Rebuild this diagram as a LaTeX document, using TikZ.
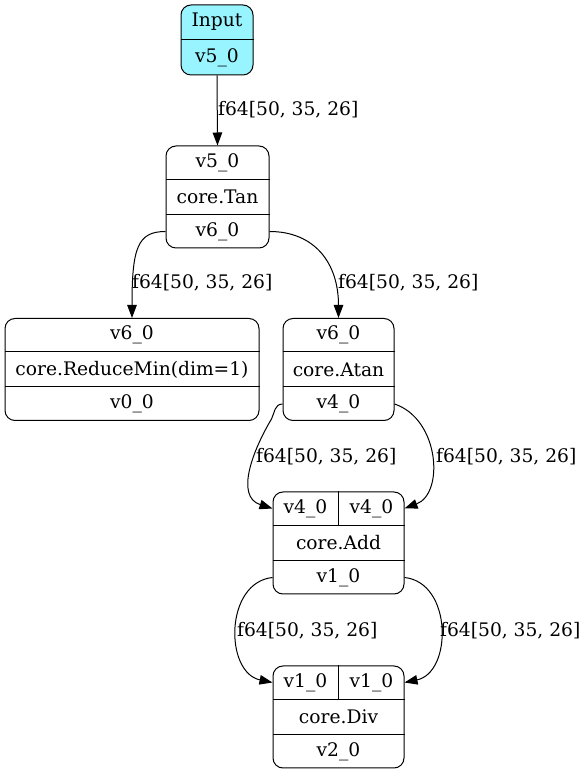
\documentclass[tikz,border=0pt]{standalone}
\usepackage{fontspec}
\setmainfont{DejaVu Serif}
\usepackage{tikz}
\usetikzlibrary{arrows.meta, positioning}
\definecolor{inputcyan}{HTML}{98F5FF}

\begin{document}
\begin{tikzpicture}[
        x=1pt, y=1pt,
        font=\fontsize{18.67}{22}\selectfont,
        record/.style={draw, line width=1pt, rounded corners=10pt, minimum height=102pt, inner sep=0pt},
        field/.style={inner sep=0pt},
        split/.style={line width=1pt},
        lbl/.style={anchor=west, inner sep=0pt},
        edge/.style={-{Triangle[length=13pt, width=9.5pt]}, line width=1pt}
    ]
    \useasboundingbox (0,0) rectangle (586,774);
%
    % Records
    \node[record, fill=inputcyan, minimum width=72pt, minimum height=70pt] (input) at (217,734) {};
    \node[record, minimum width=103pt] (tan) at (217.5,577) {};
    \node[record, minimum width=254pt] (rmin) at (132,404.5) {};
    \node[record, minimum width=111pt] (atan) at (338.5,404.5) {};
    \node[record, minimum width=131pt] (add) at (338.5,231) {};
    \node[record, minimum width=131pt] (div) at (338.5,57) {};
%
    % Fields
    \node[field] (input-op) at ([yshift=-17.5pt]input.north) {Input};
    \node[field] (input-out) at ([yshift=17.5pt]input.south) {v5\_0};
    \node[field] (tan-in) at ([yshift=-17pt]tan.north) {v5\_0};
    \node[field] (tan-op) at (tan.center) {core.Tan};
    \node[field] (tan-out) at ([yshift=17pt]tan.south) {v6\_0};
    \node[field] (rmin-in) at ([yshift=-17pt]rmin.north) {v6\_0};
    \node[field] (rmin-op) at (rmin.center) {core.ReduceMin(dim=1)};
    \node[field] (rmin-out) at ([yshift=17pt]rmin.south) {v0\_0};
    \node[field] (atan-in) at ([yshift=-17pt]atan.north) {v6\_0};
    \node[field] (atan-op) at (atan.center) {core.Atan};
    \node[field] (atan-out) at ([yshift=17pt]atan.south) {v4\_0};
    \node[field] (add-in1) at ([xshift=-33pt, yshift=-17pt]add.north) {v4\_0};
    \node[field] (add-in2) at ([xshift=33pt, yshift=-17pt]add.north) {v4\_0};
    \node[field] (add-op) at (add.center) {core.Add};
    \node[field] (add-out) at ([yshift=17pt]add.south) {v1\_0};
    \node[field] (div-in1) at ([xshift=-33pt, yshift=-17pt]div.north) {v1\_0};
    \node[field] (div-in2) at ([xshift=33pt, yshift=-17pt]div.north) {v1\_0};
    \node[field] (div-op) at (div.center) {core.Div};
    \node[field] (div-out) at ([yshift=17pt]div.south) {v2\_0};
%
    % Splits
    \draw[split] (input.west) -- (input.east);
    \draw[split] ([yshift=-34pt]tan.north west) -- ([yshift=-34pt]tan.north east);
    \draw[split] ([yshift=34pt]tan.south west) -- ([yshift=34pt]tan.south east);
    \draw[split] ([yshift=-34pt]rmin.north west) -- ([yshift=-34pt]rmin.north east);
    \draw[split] ([yshift=34pt]rmin.south west) -- ([yshift=34pt]rmin.south east);
    \draw[split] ([yshift=-34pt]atan.north west) -- ([yshift=-34pt]atan.north east);
    \draw[split] ([yshift=34pt]atan.south west) -- ([yshift=34pt]atan.south east);
    \draw[split] ([yshift=-34pt]add.north west) -- ([yshift=-34pt]add.north east);
    \draw[split] ([yshift=34pt]add.south west) -- ([yshift=34pt]add.south east);
    \draw[split] (add.north) -- ([yshift=-34pt]add.north);
    \draw[split] ([yshift=-34pt]div.north west) -- ([yshift=-34pt]div.north east);
    \draw[split] ([yshift=34pt]div.south west) -- ([yshift=34pt]div.south east);
    \draw[split] (div.north) -- ([yshift=-34pt]div.north);
%
    % Edges
    \draw[edge] (input.south) -- (tan.north);
    \draw[edge] (tan.west |- tan-out) .. controls +(-28,0) and +(0,70) .. (rmin.north);
    \draw[edge] (tan.east |- tan-out) .. controls +(45,0) and +(0,55) .. (atan.north);
    \draw[edge] (atan.west |- atan-out) .. controls +(-8,0) and +(3,6) .. ++(-11,-15)
        .. controls +(-18,-30) and +(-38,12) .. (add.west |- add-in1);
    \draw[edge] (atan.east |- atan-out) .. controls +(45,-15) and +(40,15) .. (add.east |- add-in2);
    \draw[edge] (add.west |- add-out) .. controls +(-48,-5) and +(-48,10) .. (div.west |- div-in1);
    \draw[edge] (add.east |- add-out) .. controls +(48,-5) and +(48,10) .. (div.east |- div-in2);
%
    % Labels
    \node[lbl] (lbl-in) at (218,664) {f64[50, 35, 26]};
    \node[lbl] (lbl-rmin) at (132,491) {f64[50, 35, 26]};
    \node[lbl] (lbl-atan) at (338,491) {f64[50, 35, 26]};
    \node[lbl] (lbl-add1) at (256,317) {f64[50, 35, 26]};
    \node[lbl] (lbl-add2) at (436,317) {f64[50, 35, 26]};
    \node[lbl] (lbl-div1) at (237,143) {f64[50, 35, 26]};
    \node[lbl] (lbl-div2) at (440,143) {f64[50, 35, 26]};
%
\end{tikzpicture}
\end{document}
